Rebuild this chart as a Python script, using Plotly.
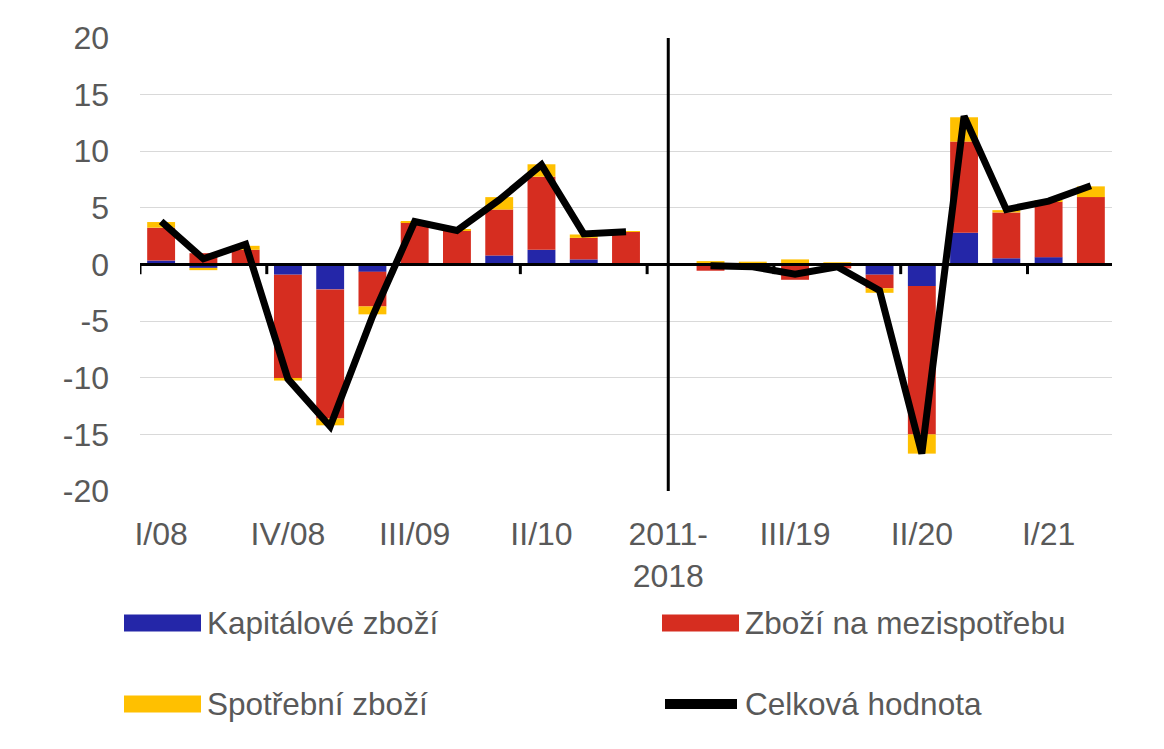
import plotly.graph_objects as go

categories = ["I/08", "II/08", "III/08", "IV/08", "I/09", "II/09", "III/09", "IV/09",
              "I/10", "II/10", "III/10", "IV/10", "2011-2018",
              "I/19", "II/19", "III/19", "IV/19", "I/20", "II/20", "III/20", "IV/20",
              "I/21", "II/21"]

tick_categories = ["I/08", "IV/08", "III/09", "II/10", "2011-2018", "III/19", "II/20", "I/21"]
tick_labels = ["I/08", "IV/08", "III/09", "II/10", "2011-<br>2018", "III/19", "II/20", "I/21"]

y_ticks = [-20, -15, -10, -5, 0, 5, 10, 15, 20]
y_tick_labels = ["-20", "-15", "-10", "-5", "0", "5", "10", "15", "20"]

kapitalove = [0.35, -0.3, 0.05, -0.9, -2.2, -0.65, 0.0, 0.0, 0.8, 1.3, 0.45, 0.0, None,
              0.0, 0.0, 0.0, 0.0, -0.9, -1.9, 2.8, 0.55, 0.65, 0.0]
mezispotreba = [2.9, 1.0, 1.25, -9.2, -11.4, -3.05, 3.75, 3.0, 4.05, 6.45, 1.9, 2.9, None,
                -0.55, -0.15, -1.35, -0.35, -1.2, -13.1, 8.05, 4.05, 4.9, 5.95]
spotrebni = [0.5, -0.2, 0.35, -0.15, -0.6, -0.7, 0.05, 0.05, 1.1, 1.1, 0.3, 0.05, None,
             0.3, 0.25, 0.45, 0.2, -0.4, -1.7, 2.15, 0.2, 0.1, 0.95]
celkova = [3.8, 0.5, 1.8, -10.1, -14.3, -4.6, 3.8, 3.0, 5.7, 8.8, 2.7, 2.9, None,
           -0.1, -0.2, -0.85, -0.2, -2.3, -16.7, 13.1, 4.85, 5.6, 6.95]

names = ["Kapitálové zboží", "Zboží na mezispotřebu", "Spotřební zboží", "Celková hodnota"]
colors = ["#2426A8", "#D62D20", "#FFC000", "#000000"]

FONT = "Liberation Sans, Arial, sans-serif"
TXT = "#595959"
W, H = 1164, 749
OFF = 8  # page body margin
ML, MR, MT, MB = 132, 60, 28, 266

fig = go.Figure()
for vals, name, col in zip([kapitalove, mezispotreba, spotrebni], names[:3], colors[:3]):
    fig.add_trace(go.Bar(x=categories, y=vals, name=name, marker=dict(color=col, line=dict(width=0)),
                         showlegend=False))
fig.add_trace(go.Scatter(x=categories, y=celkova, name=names[3], mode="lines",
                         line=dict(color=colors[3], width=7), connectgaps=False, showlegend=False))

shapes = []
# zero line
shapes.append(dict(type="line", xref="x", yref="y", x0=-0.5, x1=len(categories) - 0.5, y0=0, y1=0,
                   line=dict(color="black", width=3), layer="above"))
# tick marks at boundaries
for i in range(0, len(categories) - 1, 3):
    shapes.append(dict(type="line", xref="x", yref="y", x0=i - 0.5, x1=i - 0.5, y0=0, y1=-0.85,
                       line=dict(color="black", width=3), layer="above"))
# vertical separator at 2011-2018
sep = categories.index("2011-2018")
shapes.append(dict(type="line", xref="x", yref="y", x0=sep, x1=sep, y0=-20, y1=20,
                   line=dict(color="black", width=3), layer="above"))

# custom legend (page pixel -> paper)
pw = W - ML - MR
ph = H - MT - MB


def px(x):
    return (x - OFF - ML) / pw


def py(y):
    return (H - MB - (y - OFF)) / ph


annotations = []
legend_items = [
    (names[0], colors[0], 124, 623.5, "bar"),
    (names[1], colors[1], 662, 623.5, "bar"),
    (names[2], colors[2], 124, 705, "bar"),
    (names[3], colors[3], 662, 705, "line"),
]
for name, col, x0, yc, kind in legend_items:
    if kind == "bar":
        shapes.append(dict(type="rect", xref="paper", yref="paper", x0=px(x0), x1=px(x0 + 77),
                           y0=py(yc - 8.5), y1=py(yc + 8.5), fillcolor=col, line=dict(width=0)))
    else:
        shapes.append(dict(type="line", xref="paper", yref="paper", x0=px(x0 + 3), x1=px(x0 + 75),
                           y0=py(yc), y1=py(yc), line=dict(color=col, width=10)))
    annotations.append(dict(xref="paper", yref="paper", x=px(x0 + 81), y=py(yc), text=name,
                            showarrow=False, xanchor="left", yanchor="middle",
                            font=dict(family=FONT, size=31.5, color=TXT)))

fig.update_layout(
    width=W, height=H,
    margin=dict(l=ML, r=MR, t=MT, b=MB),
    paper_bgcolor="white", plot_bgcolor="white",
    barmode="relative", bargap=0.34,
    showlegend=False,
    shapes=shapes, annotations=annotations,
    font=dict(family=FONT, size=32, color=TXT),
    xaxis=dict(type="category", categoryorder="array", categoryarray=categories,
               range=[-0.5, len(categories) - 0.5],
               tickmode="array", tickvals=tick_categories, ticktext=tick_labels,
               showgrid=False, zeroline=False, showline=False, ticks="",
               ticklabelstandoff=21,
               tickfont=dict(family=FONT, size=32, color=TXT)),
    yaxis=dict(range=[-20, 20], tickmode="array", tickvals=y_ticks, ticktext=y_tick_labels,
               showgrid=True, gridcolor="#D9D9D9", gridwidth=1.3,
               zeroline=False, showline=False, ticks="", ticklabelstandoff=30,
               tickfont=dict(family=FONT, size=32, color=TXT)),
)

fig.write_html("out.html")
